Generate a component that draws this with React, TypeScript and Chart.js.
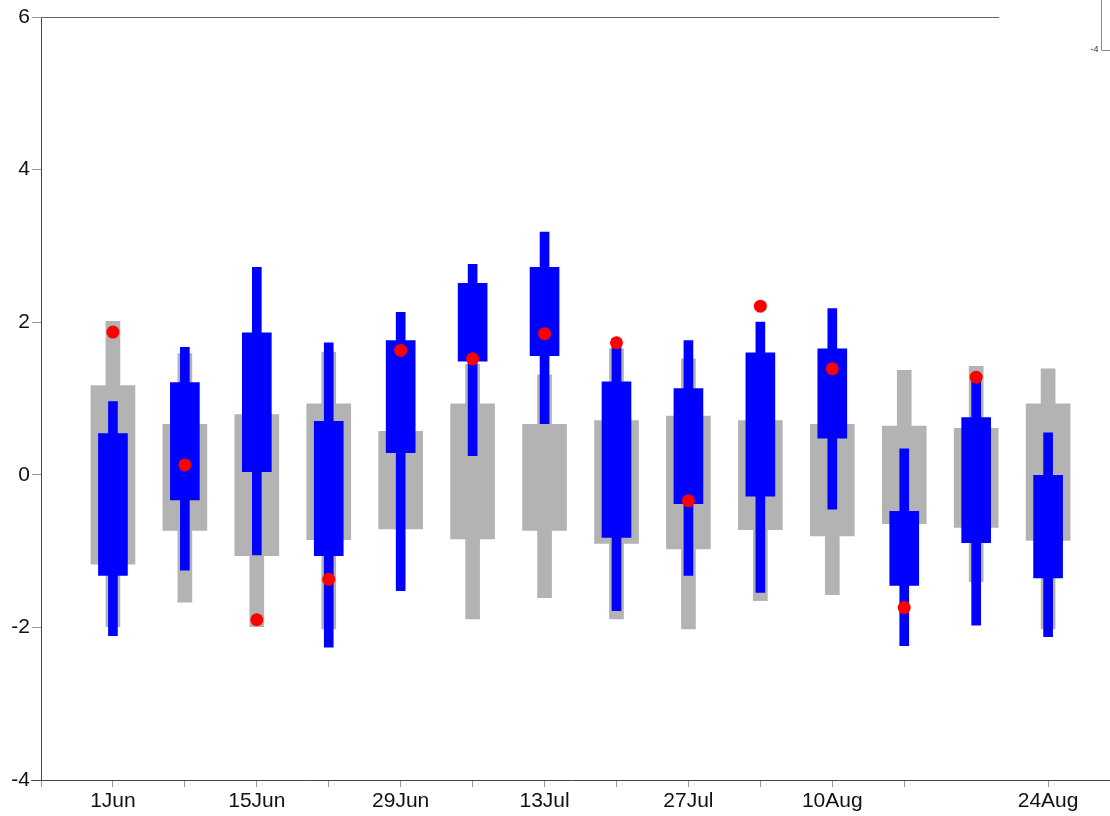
import React, { useEffect, useRef } from "react";
import { Chart, registerables } from "chart.js";

Chart.register(...registerables);

// ---- Data ----
const groupIndex = [0, 1, 2, 3, 4, 5, 6, 7, 8, 9, 10, 11, 12, 13];

const grayWhiskerHigh = [2.01, 1.59, 1.5, 1.61, 1.2, 1.45, 1.31, 1.65, 1.52, 1.2, 1.2, 1.37, 1.42, 1.39];
const grayWhiskerLow = [-1.99, -1.67, -1.99, -2.02, -0.71, -1.89, -1.61, -1.89, -2.02, -1.65, -1.57, -1.2, -1.4, -2.02];
const grayBoxHigh = [1.17, 0.66, 0.79, 0.93, 0.57, 0.93, 0.66, 0.71, 0.77, 0.71, 0.66, 0.64, 0.61, 0.93];
const grayBoxLow = [-1.17, -0.73, -1.06, -0.85, -0.71, -0.84, -0.73, -0.9, -0.97, -0.72, -0.8, -0.64, -0.69, -0.86];

const blueWhiskerHigh = [0.96, 1.67, 2.72, 1.73, 2.13, 2.76, 3.18, 1.68, 1.76, 2.0, 2.18, 0.34, 1.25, 0.55];
const blueWhiskerLow = [-2.11, -1.25, -1.05, -2.26, -1.52, 0.25, 0.67, -1.78, -1.32, -1.54, -0.45, -2.24, -1.97, -2.12];
const blueBoxHigh = [0.54, 1.21, 1.86, 0.7, 1.76, 2.51, 2.72, 1.22, 1.13, 1.6, 1.65, -0.48, 0.75, 0.0];
const blueBoxLow = [-1.32, -0.33, 0.04, -1.06, 0.29, 1.49, 1.56, -0.82, -0.38, -0.28, 0.48, -1.45, -0.89, -1.35];

const redDots: (number | null)[] = [1.87, 0.13, -1.9, -1.37, 1.63, 1.52, 1.85, 1.73, -0.34, 2.21, 1.39, -1.74, 1.28, null];

const xTickValues = [-1, 0, 1, 2, 3, 4, 5, 6, 7, 8, 9, 10, 11, 13];
const xLabelPositions = [0, 2, 4, 6, 8, 10, 13];
const xLabelTexts = ["1Jun", "15Jun", "29Jun", "13Jul", "27Jul", "10Aug", "24Aug"];

const yMin = -4;
const yMax = 6;
const yStep = 2;
const cornerLabel = "-4";

const FONT = "'Liberation Sans', Arial, Helvetica, sans-serif";

const range = (lo: number[], hi: number[]) =>
  groupIndex.map((x, i) => ({ x, y: [lo[i], hi[i]] }));

const extrasPlugin = {
  id: "extras",
  afterDraw(chart: any) {
    const { ctx, chartArea } = chart;
    const xs = chart.scales.x;
    ctx.save();
    ctx.lineWidth = 1;
    // partial top frame line
    ctx.strokeStyle = "#666";
    ctx.beginPath();
    ctx.moveTo(chartArea.left, chartArea.top + 0.5);
    ctx.lineTo(xs.getPixelForValue(12.32), chartArea.top + 0.5);
    ctx.stroke();
    // x axis line runs from a little left of the y axis to the canvas edge
    const by = Math.round(chartArea.bottom) + 0.5;
    ctx.strokeStyle = "#444";
    ctx.beginPath();
    ctx.moveTo(chartArea.left - 10, by);
    ctx.lineTo(chartArea.left, by);
    ctx.moveTo(chartArea.right, by);
    ctx.lineTo(chart.width, by);
    ctx.stroke();
    // stray fragment of a secondary axis at top right
    const vx = chart.width - 8.5;
    ctx.strokeStyle = "#888";
    ctx.beginPath();
    ctx.moveTo(vx, 0);
    ctx.lineTo(vx, 50);
    ctx.moveTo(vx, 50.5);
    ctx.lineTo(vx + 9, 50.5);
    ctx.stroke();
    ctx.fillStyle = "#333";
    ctx.font = `9px ${FONT}`;
    ctx.textAlign = "right";
    ctx.textBaseline = "middle";
    ctx.fillText(cornerLabel, vx - 3, 50);
    ctx.restore();
  },
};

export default function App() {
  const canvasRef = useRef<HTMLCanvasElement | null>(null);

  useEffect(() => {
    if (!canvasRef.current) return;
    const chart = new Chart(canvasRef.current, {
      type: "bar",
      data: {
        datasets: [
          {
            type: "scatter",
            data: groupIndex
              .filter((i) => redDots[i] !== null)
              .map((i) => ({ x: i, y: redDots[i] as number })),
            backgroundColor: "#ff0000",
            borderWidth: 0,
            pointRadius: 6.5,
            order: 0,
          } as any,
          {
            type: "bar",
            data: range(blueBoxLow, blueBoxHigh),
            backgroundColor: "#0000ff",
            barThickness: 29,
            grouped: false,
            borderWidth: 0,
            order: 1,
          } as any,
          {
            type: "bar",
            data: range(blueWhiskerLow, blueWhiskerHigh),
            backgroundColor: "#0000ff",
            barThickness: 9,
            grouped: false,
            borderWidth: 0,
            order: 2,
          } as any,
          {
            type: "bar",
            data: range(grayBoxLow, grayBoxHigh),
            backgroundColor: "#b3b3b3",
            barThickness: 44,
            grouped: false,
            borderWidth: 0,
            order: 3,
          } as any,
          {
            type: "bar",
            data: range(grayWhiskerLow, grayWhiskerHigh),
            backgroundColor: "#b3b3b3",
            barThickness: 14,
            grouped: false,
            borderWidth: 0,
            order: 4,
          } as any,
        ],
      },
      options: {
        responsive: false,
        animation: false,
        layout: { padding: { top: 17, right: 0, left: 0, bottom: 0 } },
        plugins: { legend: { display: false }, tooltip: { enabled: false } },
        scales: {
          x: {
            type: "linear",
            min: -1,
            max: 13.77,
            offset: false,
            grid: {
              display: true,
              drawOnChartArea: false,
              drawTicks: true,
              tickLength: 7,
              color: "#999",
              offset: false,
            },
            border: { display: true, color: "#444", width: 1 },
            ticks: {
              autoSkip: false,
              maxRotation: 0,
              minRotation: 0,
              padding: 2,
              color: "#111",
              font: { family: FONT, size: 21 },
              callback: (v: any) => {
                const k = xLabelPositions.indexOf(Number(v));
                return k >= 0 ? xLabelTexts[k] : "";
              },
            },
            afterBuildTicks: (s: any) => {
              s.ticks = xTickValues.map((value) => ({ value }));
            },
            afterFit: (s: any) => {
              s.height = 36;
            },
          } as any,
          y: {
            type: "linear",
            min: yMin,
            max: yMax,
            grid: {
              display: true,
              drawOnChartArea: false,
              drawTicks: true,
              tickLength: 9,
              color: "#999",
            },
            border: { display: true, color: "#444", width: 1 },
            ticks: {
              stepSize: yStep,
              padding: 2,
              color: "#111",
              font: { family: FONT, size: 21 },
            },
            afterFit: (s: any) => {
              s.width = 41;
            },
          } as any,
        },
      },
      plugins: [extrasPlugin],
    });
    return () => chart.destroy();
  }, []);

  return (
    <div style={{ position: "absolute", left: 0, top: 0, width: 1110, height: 816, background: "#fff" }}>
      <canvas ref={canvasRef} width={1110} height={816} />
    </div>
  );
}
